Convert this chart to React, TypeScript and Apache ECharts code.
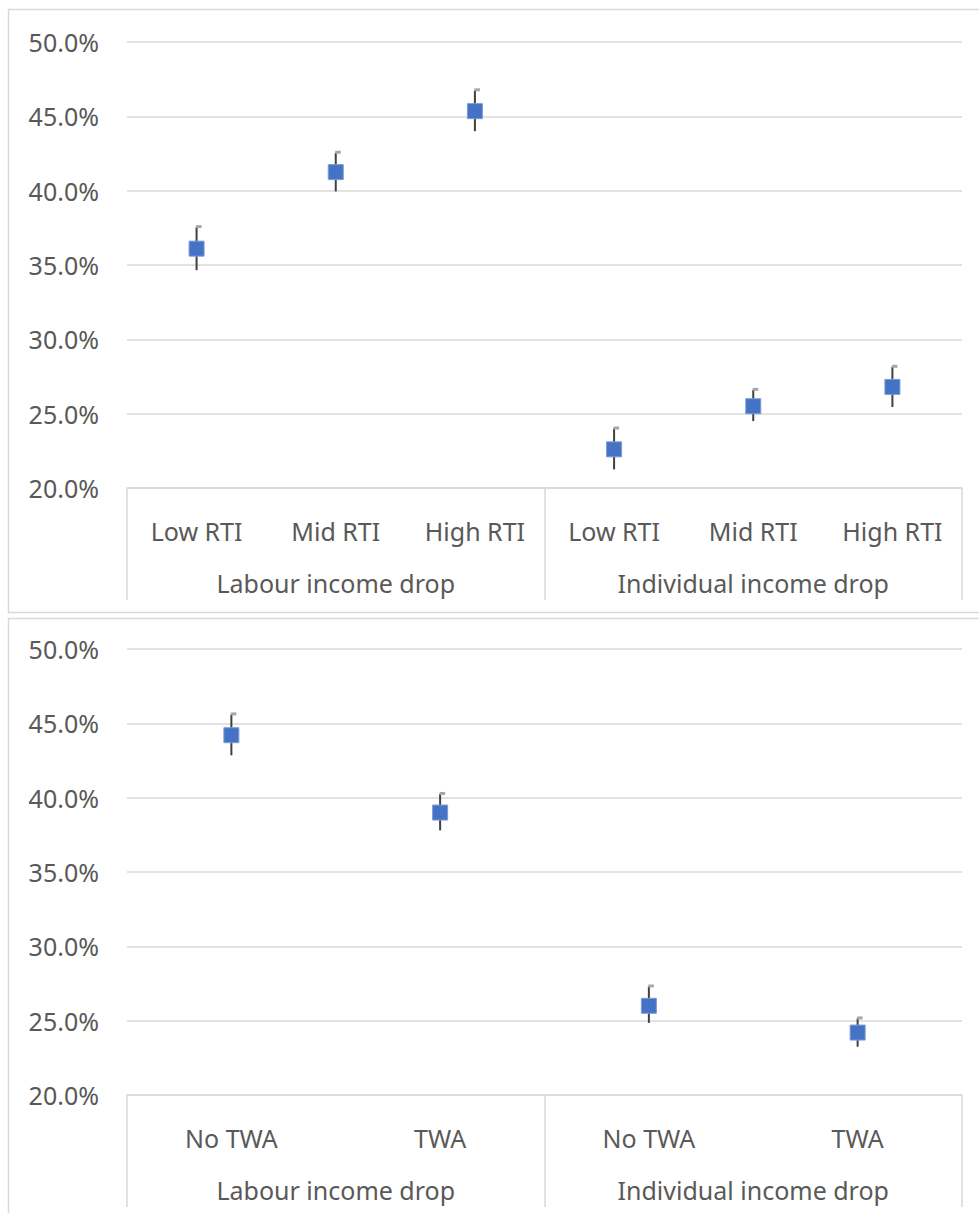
import React, { useEffect, useRef } from "react";
import * as echarts from "echarts";

// ---- data ----
const topCategories = ["Low RTI", "Mid RTI", "High RTI", "Low RTI", "Mid RTI", "High RTI"];
const groupLabels = ["Labour income drop", "Individual income drop"];
const topValues = [36.1, 41.25, 45.35, 22.6, 25.5, 26.8];
const topLow = [34.65, 39.95, 44.0, 21.25, 24.5, 25.45];
const topHigh = [37.55, 42.55, 46.75, 24.0, 26.6, 28.15];

const bottomCategories = ["No TWA", "TWA", "No TWA", "TWA"];
const bottomValues = [44.2, 39.0, 26.0, 24.2];
const bottomLow = [42.85, 37.8, 24.85, 23.25];
const bottomHigh = [45.6, 40.25, 27.3, 25.15];

const yTicksMin = 20;
const yTicksMax = 50;
const yTickStep = 5;

const FONT = "Noto Sans";
const TEXT = "#595959";
const GRID = "#D9D9D9";

export default function App() {
  const ref = useRef<HTMLDivElement>(null);

  useEffect(() => {
    if (!ref.current) return;
    const chart = echarts.init(ref.current, undefined, { renderer: "svg" });

    const errRender = (params: any, api: any) => {
      const x = api.value(0);
      const lo = api.value(1);
      const hi = api.value(2);
      const p1 = api.coord([x, lo]);
      const p2 = api.coord([x, hi]);
      return {
        type: "group",
        children: [
          {
            type: "line",
            shape: { x1: p1[0], y1: p1[1], x2: p2[0], y2: p2[1] },
            style: { stroke: "#404040", lineWidth: 2 },
          },
          {
            type: "rect",
            shape: { x: p2[0] - 0.5, y: p2[1] - 2, width: 5.5, height: 3 },
            style: { fill: "#A6A6A6" },
          },
        ],
      };
    };

    const yAxis = (gridIndex: number) => ({
      gridIndex,
      type: "value",
      min: yTicksMin,
      max: yTicksMax,
      interval: yTickStep,
      axisLine: { show: false },
      axisTick: { show: false },
      splitLine: { lineStyle: { color: GRID, width: 1.5 } },
      axisLabel: {
        formatter: (v: number) => v.toFixed(1) + "%",
        margin: 28,
        fontSize: 25,
        color: TEXT,
        fontFamily: FONT,
      },
    });

    const catAxis = (gridIndex: number, data: string[]) => ({
      gridIndex,
      type: "category",
      data,
      position: "bottom",
      axisLine: { show: true, onZero: false, lineStyle: { color: GRID, width: 1.5 } },
      axisTick: { show: false },
      axisLabel: { interval: 0, margin: 30, fontSize: 25, color: TEXT, fontFamily: FONT },
      splitLine: { show: false },
    });

    const groupAxis = (gridIndex: number) => ({
      gridIndex,
      type: "category",
      data: groupLabels,
      position: "bottom",
      axisLine: { show: false, onZero: false },
      axisTick: { show: true, interval: 0, length: 112, lineStyle: { color: GRID, width: 1.5 } },
      axisLabel: { interval: 0, margin: 82, fontSize: 25, color: TEXT, fontFamily: FONT },
      splitLine: { show: false },
    });

    const option: any = {
      animation: false,
      backgroundColor: "#ffffff",
      grid: [
        { left: 127, top: 42, width: 835, height: 446 },
        { left: 127, top: 649, width: 835, height: 446 },
      ],
      xAxis: [catAxis(0, topCategories), groupAxis(0), catAxis(1, bottomCategories), groupAxis(1)],
      yAxis: [yAxis(0), yAxis(1)],
      graphic: [
        {
          type: "rect",
          shape: { x: 8.5, y: 9.5, width: 985, height: 603 },
          style: { fill: "none", stroke: GRID, lineWidth: 1.5 },
          silent: true,
        },
        {
          type: "rect",
          shape: { x: 8.5, y: 618.5, width: 985, height: 620 },
          style: { fill: "none", stroke: GRID, lineWidth: 1.5 },
          silent: true,
        },
      ],
      series: [
        {
          type: "custom",
          xAxisIndex: 0,
          yAxisIndex: 0,
          renderItem: errRender,
          encode: { x: 0, y: [1, 2] },
          data: topValues.map((_, i) => [i, topLow[i], topHigh[i]]),
          z: 2,
        },
        {
          type: "scatter",
          xAxisIndex: 0,
          yAxisIndex: 0,
          symbol: "rect",
          symbolSize: 15,
          itemStyle: { color: "#4472C4", borderColor: "#7A9AD8", borderWidth: 1, opacity: 1 },
          data: topValues.map((v, i) => [i, v]),
          z: 3,
        },
        {
          type: "custom",
          xAxisIndex: 2,
          yAxisIndex: 1,
          renderItem: errRender,
          encode: { x: 0, y: [1, 2] },
          data: bottomValues.map((_, i) => [i, bottomLow[i], bottomHigh[i]]),
          z: 2,
        },
        {
          type: "scatter",
          xAxisIndex: 2,
          yAxisIndex: 1,
          symbol: "rect",
          symbolSize: 15,
          itemStyle: { color: "#4472C4", borderColor: "#7A9AD8", borderWidth: 1, opacity: 1 },
          data: bottomValues.map((v, i) => [i, v]),
          z: 3,
        },
      ],
    };

    chart.setOption(option);
    return () => chart.dispose();
  }, []);

  return (
    <div
      ref={ref}
      style={{ position: "absolute", left: 0, top: 0, width: 979, height: 1213, background: "#fff" }}
    />
  );
}
